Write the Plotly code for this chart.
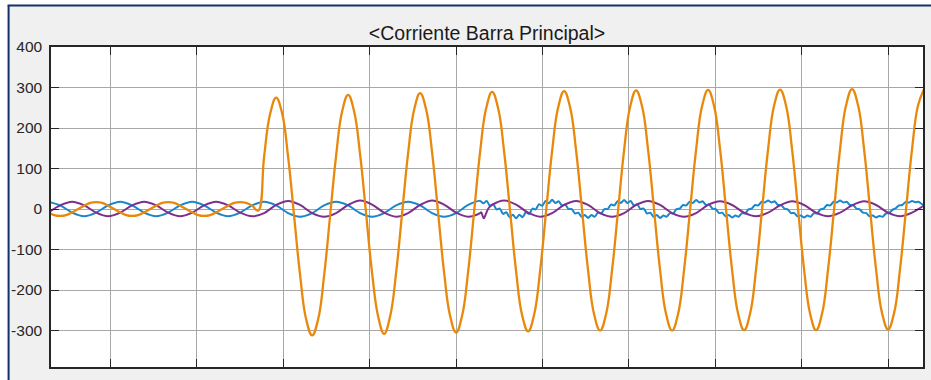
import numpy as np
import plotly.graph_objects as go

TITLE = "<Corriente Barra Principal>"

# Phase A (orange): sampled every 1/720 s starting at k=4
ORANGE_DT = 1 / 720
ORANGE_K0 = 4
orange = [-8, -15, -17, -15, -8, 0, 8, 15,
          17, 15, 8, 0, -8, -15, -17, -15, -8, 0, 8, 15,
          17, 15, 8, 0, -8, -15, -17, -15, -8, 0, 8, 15,
          17, 15, 8,
          -4,
          130, 235, 275, 236, 128, -18, -164, -272, -312, -272, -164, -16,
          132, 241, 282, 241, 134, -12, -159, -265, -308, -265, -157, -10,
          138, 245, 286, 246, 139, -9, -157, -264, -305, -263, -155, -7,
          141, 248, 289, 249, 142, -6, -154, -262, -302, -261, -153, -5,
          143, 250, 291, 251, 144, -4, -152, -260, -300, -259, -150, -3,
          145, 252, 293, 253, 146, -3, -151, -259, -300, -259, -150, -2,
          146, 254, 294, 254, 147, -2, -150, -258, -299, -258, -149, -1,
          147, 255, 295, 255, 147, -1, -149, -258, -299, -258, -149, -1,
          148, 256, 296, 256, 148, -1, -149, -257, -297, -257, -148, 0,
          148, 256, 296]

# Phase C (purple): sampled every 1/360 s starting at k=2
PURPLE_DT = 1 / 360
PURPLE_K0 = 2
purple = [-9, 9, 18, 9, -9, -18, -9, 9, 18, 9, -9, -18,
          -9, 9, 18, 9, -9, -18,
          -10, 10, 20, 10, -10, -19, -10, 10, 21, 11, -9, -19,
          -10, 10, 21, 11, -9, -19, -10, 10, 21, 11, -9, -19,
          -10, 10, 20, 10, -10, -19, -10, 10, 20, 10, -10, -19,
          -10, 10, 19, 10, -9, -18, -9, 9, 19, 10, -9, -18,
          -9, 9, 19, 10, -9, -18, -9, 9]
# short disturbance seen on the purple trace
purple_glitch_t = [0.1058, 0.1064, 0.1069, 0.1075]
purple_glitch_v = [-8, -23, -12, 2]

# Phase B (blue): smooth part every 1/360 s starting at k=2 ...
BLUE_DT = 1 / 360
BLUE_K0 = 2
blue_smooth = [18, 9, -9, -18, -9, 9, 18, 9, -9, -18, -9, 9,
               18, 9, -9, -18, -9, 9, 18, 9, -10, -19, -10, 9,
               18, 9, -10, -19, -10, 9, 18, 9, -10, -19, -10, 10,
               20]
# ... then the rippled part every 1/1320 s after the last smooth sample
BLUE_RIPPLE_DT = 1 / 1320
blue_ripple = [14, 20, 8, 12, -1, 1, -12, -8, -20, -14, -23, -14, -20, -8, -12, 1, -1, 12, 8, 20, 14, 23,
               15, 19, 9, 11, 0, 0, -11, -9, -19, -15, -22, -15, -19, -9, -11, 0, 0, 11, 9, 19, 15, 22,
               15, 20, 9, 12, 0, 1, -11, -9, -19, -15, -22, -16, -19, -10, -11, 0, 1, 10, 9, 18, 15, 22,
               16, 19, 10, 11, 1, 0, -10, -9, -18, -15, -21, -16, -19, -10, -11, -1, 1, 10, 9, 18, 16, 21,
               16, 19, 10, 10, 1, -1, -10, -10, -18, -16, -21, -16, -19, -10, -11, -1, 1, 10, 9, 18, 16, 21,
               16, 18, 10, 10, 1, -1, -9, -10, -18, -16, -21, -17, -19, -11, -10, -2, 2, 9, 10, 17, 16, 20,
               17, 18, 12, 10]

Y_TICKS = [-300, -200, -100, 0, 100, 200, 300, 400]
X_RANGE = [0.00621, 0.20809]
Y_RANGE = [-390, 400]

# ---------------- build series ----------------
t_orange = (ORANGE_K0 + np.arange(len(orange))) * ORANGE_DT

t_purple = (PURPLE_K0 + np.arange(len(purple))) * PURPLE_DT
tp = np.concatenate([t_purple, purple_glitch_t])
vp = np.concatenate([purple, purple_glitch_v])
order = np.argsort(tp)
tp, vp = tp[order], vp[order]

t_blue_s = (BLUE_K0 + np.arange(len(blue_smooth))) * BLUE_DT
t_blue_r = t_blue_s[-1] + (1 + np.arange(len(blue_ripple))) * BLUE_RIPPLE_DT
tb = np.concatenate([t_blue_s, t_blue_r])
vb = np.concatenate([blue_smooth, blue_ripple])

ORANGE = "#E8890C"
BLUE = "#1A86CC"
PURPLE = "#7E2F8E"
TXT = "#262626"
GRID = "#a8a8a8"

fig = go.Figure()
fig.add_trace(go.Scatter(x=tb, y=vb, mode="lines",
                         line=dict(color=BLUE, width=2, shape="spline", smoothing=0.7)))
fig.add_trace(go.Scatter(x=tp, y=vp, mode="lines",
                         line=dict(color=PURPLE, width=2, shape="spline", smoothing=0.9)))
fig.add_trace(go.Scatter(x=t_orange, y=orange, mode="lines",
                         line=dict(color=ORANGE, width=2.3, shape="spline", smoothing=1.2)))

W, H = 931, 380
ML, MR, MT, MB = 51, 6, 47, 13
PW, PH = W - ML - MR, H - MT - MB


def px(xp):
    return (xp - ML) / PW


def py(yp):
    return (H - MB - yp) / PH


NAVY = "#15306f"
shapes = [
    dict(type="rect", xref="paper", yref="paper", x0=-0.2, x1=1.2, y0=py(4.5), y1=py(-5),
         fillcolor="white", line=dict(width=0), layer="above"),
    dict(type="rect", xref="paper", yref="paper", x0=px(-5), x1=px(7.5), y0=-0.2, y1=py(4.5),
         fillcolor="white", line=dict(width=0), layer="above"),
    dict(type="line", xref="paper", yref="paper", x0=px(7.5), x1=1.2, y0=py(5.5), y1=py(5.5),
         line=dict(color=NAVY, width=2), layer="above"),
    dict(type="line", xref="paper", yref="paper", x0=px(8.5), x1=px(8.5), y0=-0.2, y1=py(5.5),
         line=dict(color=NAVY, width=2), layer="above"),
]

fig.update_layout(
    width=W, height=H,
    margin=dict(l=ML, r=MR, t=MT, b=MB),
    paper_bgcolor="#f0f0f0", plot_bgcolor="white",
    showlegend=False,
    font=dict(family="Arial, Liberation Sans, sans-serif", color=TXT),
    title=dict(text=TITLE, x=px(488), xref="paper", xanchor="center",
               y=1 - 33 / H, yref="container", yanchor="middle",
               font=dict(size=19.5, color="#1a1a1a")),
    shapes=shapes,
)
fig.update_xaxes(range=X_RANGE, tick0=0, dtick=0.02, showticklabels=False,
                 ticks="inside", ticklen=8, tickwidth=1.2, tickcolor=TXT,
                 showgrid=True, gridcolor=GRID, gridwidth=1,
                 showline=True, linecolor=TXT, linewidth=1.5, mirror="allticks",
                 zeroline=False)
fig.update_yaxes(range=Y_RANGE, tickvals=Y_TICKS, ticktext=[str(v) for v in Y_TICKS],
                 ticks="inside", ticklen=8, tickwidth=1.2, tickcolor=TXT,
                 tickfont=dict(size=15.5, color=TXT), ticklabelstandoff=4,
                 showgrid=True, gridcolor=GRID, gridwidth=1,
                 showline=True, linecolor=TXT, linewidth=1.5, mirror="allticks",
                 zeroline=False)

fig.write_html("out.html", config={"displayModeBar": False},
               post_script="document.body.style.margin='0';")
